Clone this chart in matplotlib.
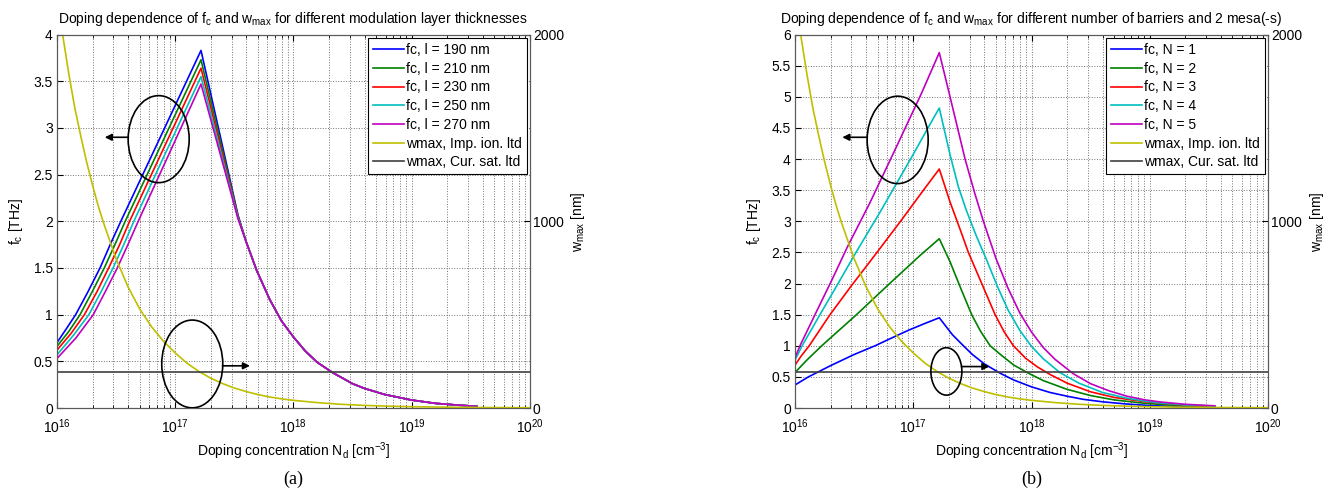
import numpy as np
import matplotlib.pyplot as plt
from matplotlib.patches import Ellipse
from matplotlib.ticker import LogLocator, NullFormatter, MultipleLocator, FixedLocator

# шрифты как в MATLAB (Helvetica -> Liberation Sans)
plt.rcParams['font.family'] = 'sans-serif'
plt.rcParams['font.sans-serif'] = ['Liberation Sans', 'DejaVu Sans']
plt.rcParams['mathtext.default'] = 'regular'
plt.rcParams['font.size'] = 10

# ---------------- данные (a): толщина модуляционного слоя ----------------
# log10(Nd) и fc [THz]
a_lg_blue = [16.0, 16.08, 16.158, 16.26, 16.364, 16.45, 16.54, 17.218, 17.53, 17.6, 17.69, 17.8, 17.9, 18.0, 18.1, 18.2, 18.33, 18.5, 18.6, 18.77, 19.0, 19.2, 19.4, 19.55]
a_fc_blue = [0.70, 0.85, 1.0, 1.24, 1.5, 1.75, 2.0, 3.83, 2.07, 1.78, 1.47, 1.16, 0.93, 0.76, 0.61, 0.49, 0.38, 0.26, 0.21, 0.145, 0.085, 0.05, 0.03, 0.018]
a_lg_green = [16.0, 16.10, 16.195, 16.30, 16.40, 16.49, 16.577, 17.218, 17.53, 17.6, 17.69, 17.8, 17.9, 18.0, 18.1, 18.2, 18.33, 18.5, 18.6, 18.77, 19.0, 19.2, 19.4, 19.55]
a_fc_green = [0.66, 0.82, 1.0, 1.25, 1.5, 1.75, 2.0, 3.73, 2.06, 1.78, 1.47, 1.16, 0.93, 0.76, 0.61, 0.49, 0.38, 0.26, 0.21, 0.145, 0.085, 0.05, 0.03, 0.018]
a_lg_red = [16.0, 16.12, 16.232, 16.34, 16.437, 16.53, 16.614, 17.218, 17.53, 17.6, 17.69, 17.8, 17.9, 18.0, 18.1, 18.2, 18.33, 18.5, 18.6, 18.77, 19.0, 19.2, 19.4, 19.55]
a_fc_red = [0.62, 0.80, 1.0, 1.25, 1.5, 1.75, 2.0, 3.64, 2.05, 1.78, 1.47, 1.16, 0.93, 0.76, 0.61, 0.49, 0.38, 0.26, 0.21, 0.145, 0.085, 0.05, 0.03, 0.018]
a_lg_cyan = [16.0, 16.14, 16.27, 16.375, 16.474, 16.565, 16.65, 17.218, 17.53, 17.6, 17.69, 17.8, 17.9, 18.0, 18.1, 18.2, 18.33, 18.5, 18.6, 18.77, 19.0, 19.2, 19.4, 19.55]
a_fc_cyan = [0.57, 0.78, 1.0, 1.25, 1.5, 1.75, 2.0, 3.55, 2.04, 1.78, 1.47, 1.16, 0.93, 0.76, 0.61, 0.49, 0.38, 0.26, 0.21, 0.145, 0.085, 0.05, 0.03, 0.018]
a_lg_magenta = [16.0, 16.16, 16.307, 16.41, 16.51, 16.60, 16.687, 17.218, 17.53, 17.6, 17.69, 17.8, 17.9, 18.0, 18.1, 18.2, 18.33, 18.5, 18.6, 18.77, 19.0, 19.2, 19.4, 19.55]
a_fc_magenta = [0.53, 0.75, 1.0, 1.25, 1.5, 1.75, 2.0, 3.47, 2.03, 1.78, 1.47, 1.16, 0.93, 0.76, 0.61, 0.49, 0.38, 0.26, 0.21, 0.145, 0.085, 0.05, 0.03, 0.018]
a_labels = ['fc, l = 190 nm', 'fc, l = 210 nm', 'fc, l = 230 nm', 'fc, l = 250 nm', 'fc, l = 270 nm']

# ---------------- данные (b): число барьеров ----------------
b_lg_blue = [16.0, 16.113, 16.3, 16.5, 16.677, 16.8, 16.96, 17.1, 17.22, 17.33, 17.424, 17.5, 17.6, 17.734, 17.85, 18.0, 18.156, 18.3, 18.436, 18.6, 18.8, 19.0, 19.2, 19.4, 19.55]
b_fc_blue = [0.37, 0.5, 0.68, 0.86, 1.0, 1.11, 1.25, 1.36, 1.45, 1.18, 1.0, 0.86, 0.71, 0.56, 0.45, 0.34, 0.25, 0.19, 0.14, 0.10, 0.065, 0.04, 0.025, 0.014, 0.008]
b_lg_green = [16.0, 16.1, 16.226, 16.52, 16.789, 17.057, 17.22, 17.311, 17.4, 17.494, 17.57, 17.65, 17.75, 17.85, 17.973, 18.1, 18.3, 18.5, 18.7, 18.96, 19.2, 19.4, 19.55]
b_fc_green = [0.57, 0.77, 1.0, 1.5, 1.98, 2.45, 2.72, 2.35, 1.93, 1.5, 1.23, 1.0, 0.84, 0.69, 0.56, 0.44, 0.3, 0.2, 0.13, 0.075, 0.045, 0.028, 0.02]
b_lg_red = [16.0, 16.05, 16.12, 16.296, 16.479, 16.677, 16.9, 17.09, 17.22, 17.311, 17.4, 17.466, 17.579, 17.692, 17.77, 17.847, 17.95, 18.05, 18.156, 18.3, 18.5, 18.7, 18.96, 19.2, 19.4, 19.55]
b_fc_red = [0.69, 0.83, 1.0, 1.5, 1.97, 2.46, 3.02, 3.51, 3.84, 3.31, 2.85, 2.5, 2.0, 1.5, 1.22, 1.0, 0.8, 0.66, 0.54, 0.4, 0.26, 0.17, 0.1, 0.06, 0.035, 0.025]
b_lg_cyan = [16.0, 16.06, 16.211, 16.352, 16.5, 16.72, 16.995, 17.136, 17.22, 17.311, 17.382, 17.45, 17.53, 17.62, 17.71, 17.8, 17.9, 18.0, 18.1, 18.24, 18.4, 18.6, 18.8, 18.96, 19.1, 19.3, 19.55]
b_fc_cyan = [0.77, 1.0, 1.5, 1.96, 2.45, 3.15, 4.06, 4.54, 4.82, 4.07, 3.55, 3.17, 2.78, 2.38, 1.96, 1.58, 1.25, 0.99, 0.79, 0.57, 0.4, 0.25, 0.16, 0.11, 0.08, 0.05, 0.03]
b_lg_magenta = [16.0, 16.042, 16.169, 16.31, 16.446, 16.634, 16.846, 17.068, 17.22, 17.311, 17.438, 17.52, 17.593, 17.7, 17.8, 17.9, 18.0, 18.1, 18.2, 18.354, 18.5, 18.65, 18.806, 18.96, 19.1, 19.3, 19.55]
b_fc_magenta = [0.81, 1.0, 1.5, 2.05, 2.6, 3.3, 4.15, 5.05, 5.71, 5.0, 4.0, 3.45, 3.0, 2.4, 1.93, 1.53, 1.22, 0.97, 0.78, 0.55, 0.39, 0.28, 0.19, 0.13, 0.095, 0.06, 0.035]
b_labels = ['fc, N = 1', 'fc, N = 2', 'fc, N = 3', 'fc, N = 4', 'fc, N = 5']

# ---------------- wmax [nm] (одинаково на обоих графиках) ----------------
w_lg_imp = [16.048, 16.1, 16.15, 16.2, 16.25, 16.3, 16.35, 16.4, 16.5, 16.6, 16.7, 16.8, 16.9, 17.0, 17.1, 17.2, 17.3, 17.4, 17.5, 17.6, 17.7, 17.8, 17.9, 18.0, 18.2, 18.4, 18.6, 18.8, 19.0, 19.3, 19.6, 20.0]
w_imp = [2000, 1790, 1610, 1460, 1320, 1195, 1080, 980, 800, 650, 530, 435, 358, 295, 240, 196, 160, 131, 107, 88, 72, 59, 49, 41, 29, 20, 14, 10, 7, 4.5, 2.8, 1.5]
w_lg_sat = [16.0, 20.0]
w_sat = [192, 192]

colors = [(0, 0, 1), (0, 0.5, 0), (1, 0, 0), (0, 0.75, 0.75), (0.75, 0, 0.75)]
c_imp = (0.75, 0.75, 0)
c_sat = (0.25, 0.25, 0.25)


def draw_panel(rect, series, labels, ymax, title, tag, ell1, arr1, ell2, arr2):
    ax = fig.add_axes(rect)
    ax2 = ax.twinx()
    handles = []
    for (lg, fc), col, lab in zip(series, colors, labels):
        h, = ax.plot(10 ** np.array(lg), fc, color=col, lw=1.2, label=lab)
        handles.append(h)
    h, = ax2.plot(10 ** np.array(w_lg_imp), w_imp, color=c_imp, lw=1.2, label='wmax, Imp. ion. ltd')
    handles.append(h)
    h, = ax2.plot(10 ** np.array(w_lg_sat), w_sat, color=c_sat, lw=1.2, label='wmax, Cur. sat. ltd')
    handles.append(h)

    ax.set_xscale('log')
    ax.set_xlim(1e16, 1e20)
    ax.set_ylim(0, ymax)
    ax2.set_ylim(0, 2000)
    ax.yaxis.set_major_locator(MultipleLocator(0.5))
    ax.yaxis.set_major_formatter(plt.FuncFormatter(lambda v, p: ('%g' % v)))
    ax2.yaxis.set_major_locator(FixedLocator([0, 1000, 2000]))
    ax.xaxis.set_major_locator(LogLocator(base=10, numticks=10))
    ax.xaxis.set_minor_locator(LogLocator(base=10, subs=np.arange(2, 10), numticks=50))
    ax.xaxis.set_minor_formatter(NullFormatter())

    ax.grid(True, which='major', ls=':', color='0.45', lw=0.7)
    ax.xaxis.grid(True, which='minor', ls=':', color='0.45', lw=0.7)
    ax.tick_params(axis='y', direction='in', length=4, labelsize=10, pad=3)
    ax.tick_params(axis='x', direction='in', top=True, length=4, labelsize=10, pad=7)
    ax.tick_params(which='minor', direction='in', top=True, length=2)
    ax2.tick_params(direction='in', length=4, labelsize=10, pad=2)
    for a in (ax, ax2):
        for s in a.spines.values():
            s.set_color('0.35')

    ax.set_xlabel('Doping concentration N$_d$ [cm$^{-3}$]', fontsize=10, labelpad=3)
    ax.set_ylabel('f$_c$ [THz]', fontsize=10, labelpad=6)
    ax2.set_ylabel('w$_{max}$ [nm]', fontsize=10, labelpad=4)
    ax.set_title(title, fontsize=10, pad=8)

    leg = ax2.legend(handles=handles, loc='upper right', fontsize=10, fancybox=False,
                     edgecolor='black', framealpha=1, handlelength=2.2, handletextpad=0.15,
                     borderpad=0.35, labelspacing=0.34, borderaxespad=0.25)
    leg.get_frame().set_linewidth(0.8)

    for (cx, cy, w, hgt), (x0, x1, y) in ((ell1, arr1), (ell2, arr2)):
        ax2.add_patch(Ellipse((cx, cy), w, hgt, transform=ax2.transAxes, fill=False,
                              ec='black', lw=1.2, zorder=5))
        ax2.annotate('', xy=(x1, y), xytext=(x0, y), xycoords='axes fraction',
                     arrowprops=dict(arrowstyle='-|>', color='black', lw=1.2,
                                     mutation_scale=10, shrinkA=0, shrinkB=0))

    fig.text(rect[0] + rect[2] / 2, 0.025, tag, ha='center', va='center',
             family='Liberation Serif', fontsize=13)
    return ax, ax2


fig = plt.figure(figsize=(13.31, 4.92), dpi=100)

series_a = [(a_lg_blue, a_fc_blue), (a_lg_green, a_fc_green), (a_lg_red, a_fc_red),
            (a_lg_cyan, a_fc_cyan), (a_lg_magenta, a_fc_magenta)]
series_b = [(b_lg_blue, b_fc_blue), (b_lg_green, b_fc_green), (b_lg_red, b_fc_red),
            (b_lg_cyan, b_fc_cyan), (b_lg_magenta, b_fc_magenta)]

draw_panel([0.0428, 0.1707, 0.3554, 0.759], series_a, a_labels, 4,
           'Doping dependence of f$_c$ and w$_{max}$ for different modulation layer thicknesses', '(a)',
           (0.215, 0.720, 0.129, 0.233), (0.151, 0.101, 0.725),
           (0.286, 0.118, 0.129, 0.235), (0.350, 0.408, 0.113))
draw_panel([0.5973, 0.1707, 0.3554, 0.759], series_b, b_labels, 6,
           'Doping dependence of f$_c$ and w$_{max}$ for different number of barriers and 2 mesa(-s)', '(b)',
           (0.217, 0.718, 0.129, 0.234), (0.153, 0.100, 0.725),
           (0.320, 0.098, 0.0655, 0.127), (0.352, 0.411, 0.111))

fig.savefig('out.png', dpi=100)
